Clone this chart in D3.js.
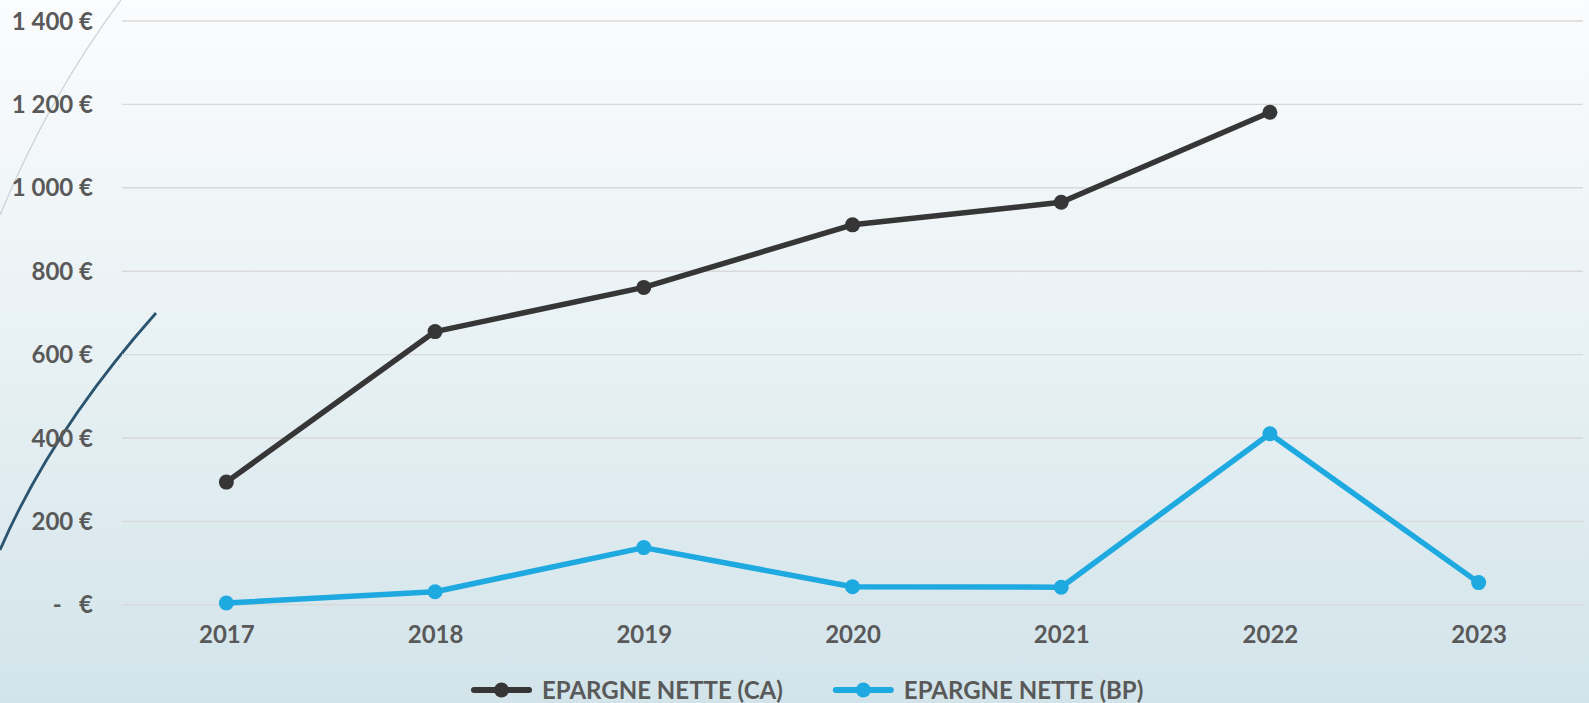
<!doctype html>
<html lang="fr">
<head>
<meta charset="UTF-8">
<title>Epargne nette</title>
<script src="https://cdn.jsdelivr.net/npm/d3@7"></script>
<style>
  html, body { margin: 0; padding: 0; overflow: hidden; }
  svg { display: block; }
  svg text { font-family: Lato, "Open Sans", sans-serif; font-weight: 700; }
  .tick text { fill: #595959; font-size: 24px; white-space: pre; }
</style>
</head>
<body>
<div id="chart"></div>
<script>
// data
const years = ["2017", "2018", "2019", "2020", "2021", "2022", "2023"];
const caValues = [293, 654, 760, 910, 964, 1180, null];
const bpValues = [3, 30, 136, 42, 41, 409, 52];
const yTicks = [0, 200, 400, 600, 800, 1000, 1200, 1400];
const seriesNames = ["EPARGNE NETTE (CA)", "EPARGNE NETTE (BP)"];
const seriesColors = ["#363636", "#1fa9e1"];

const width = 1589, height = 703;
const marginLeft = 122, marginRight = 6, marginTop = 20.5, zeroY = 604.3;

const svg = d3.select("#chart").append("svg")
  .attr("width", width)
  .attr("height", height);

// background gradient
const grad = svg.append("defs").append("linearGradient")
  .attr("id", "bg").attr("x1", 0).attr("y1", 0).attr("x2", 0).attr("y2", 1);
grad.append("stop").attr("offset", "0%").attr("stop-color", "#fbfcfd");
grad.append("stop").attr("offset", "50%").attr("stop-color", "#e8f1f4");
grad.append("stop").attr("offset", "100%").attr("stop-color", "#d2e4ea");
svg.append("rect").attr("width", width).attr("height", height).attr("fill", "url(#bg)");

// decorative curves on the left
svg.append("path")
  .attr("d", "M121,0 Q50,95 0,215")
  .attr("fill", "none").attr("stroke", "#c5d0d6").attr("stroke-width", 1.2);
svg.append("path")
  .attr("d", "M156,313 Q52,430 0,550")
  .attr("fill", "none").attr("stroke", "#2a5470").attr("stroke-width", 2.8);

const x = d3.scalePoint()
  .domain(years)
  .range([marginLeft, width - marginRight])
  .padding(0.5);

const y = d3.scaleLinear()
  .domain([0, 1400])
  .range([zeroY, marginTop]);

const euro = d => d === 0 ? "-   €" : d3.format(",")(d).replace(/,/g, " ") + " €";

// y axis + gridlines
const yAxis = svg.append("g")
  .attr("transform", `translate(${marginLeft},0)`)
  .call(d3.axisLeft(y).tickValues(yTicks).tickFormat(euro)
    .tickSize(-(width - marginRight - marginLeft)).tickPadding(29));
yAxis.attr("font-family", null).attr("font-size", null);
yAxis.select(".domain").remove();
yAxis.selectAll(".tick line").attr("stroke", "#d9d9d9").attr("stroke-width", 1.4);
yAxis.selectAll(".tick text").attr("dy", "0.36em");

// x axis
const xAxis = svg.append("g")
  .attr("transform", `translate(0,${zeroY})`)
  .call(d3.axisBottom(x).tickSize(0).tickPadding(22));
xAxis.attr("font-family", null).attr("font-size", null);
xAxis.select(".domain").remove();

// lines and dots
const series = [caValues, bpValues].map((vals, i) => ({
  name: seriesNames[i],
  color: seriesColors[i],
  points: years.map((yr, j) => ({ year: yr, value: vals[j] })).filter(p => p.value != null)
}));

const line = d3.line().x(d => x(d.year)).y(d => y(d.value));

const g = svg.selectAll(".series").data(series).join("g").attr("class", "series");
g.append("path")
  .attr("d", d => line(d.points))
  .attr("fill", "none")
  .attr("stroke", d => d.color)
  .attr("stroke-width", 5.5)
  .attr("stroke-linejoin", "round");
g.each(function (s) {
  d3.select(this).selectAll("circle").data(s.points).join("circle")
    .attr("cx", d => x(d.year))
    .attr("cy", d => y(d.value))
    .attr("r", 7.5)
    .attr("fill", s.color);
});

// legend
const legendY = 690;
const legend = svg.append("g");
const items = legend.selectAll("g").data(series).join("g");
items.append("line")
  .attr("x1", 0).attr("x2", 55).attr("y1", 0).attr("y2", 0)
  .attr("stroke", d => d.color).attr("stroke-width", 6).attr("stroke-linecap", "round");
items.append("circle").attr("cx", 27.5).attr("cy", 0).attr("r", 7.5).attr("fill", d => d.color);
items.append("text")
  .attr("x", 68).attr("dy", "0.36em")
  .attr("fill", "#595959").attr("font-size", 24).attr("font-weight", 700)
  .text(d => d.name);

let cursor = 474;
items.each(function () {
  d3.select(this).attr("transform", `translate(${cursor},${legendY})`);
  cursor += 68 + d3.select(this).select("text").node().getComputedTextLength() + 53;
});
</script>
</body>
</html>
